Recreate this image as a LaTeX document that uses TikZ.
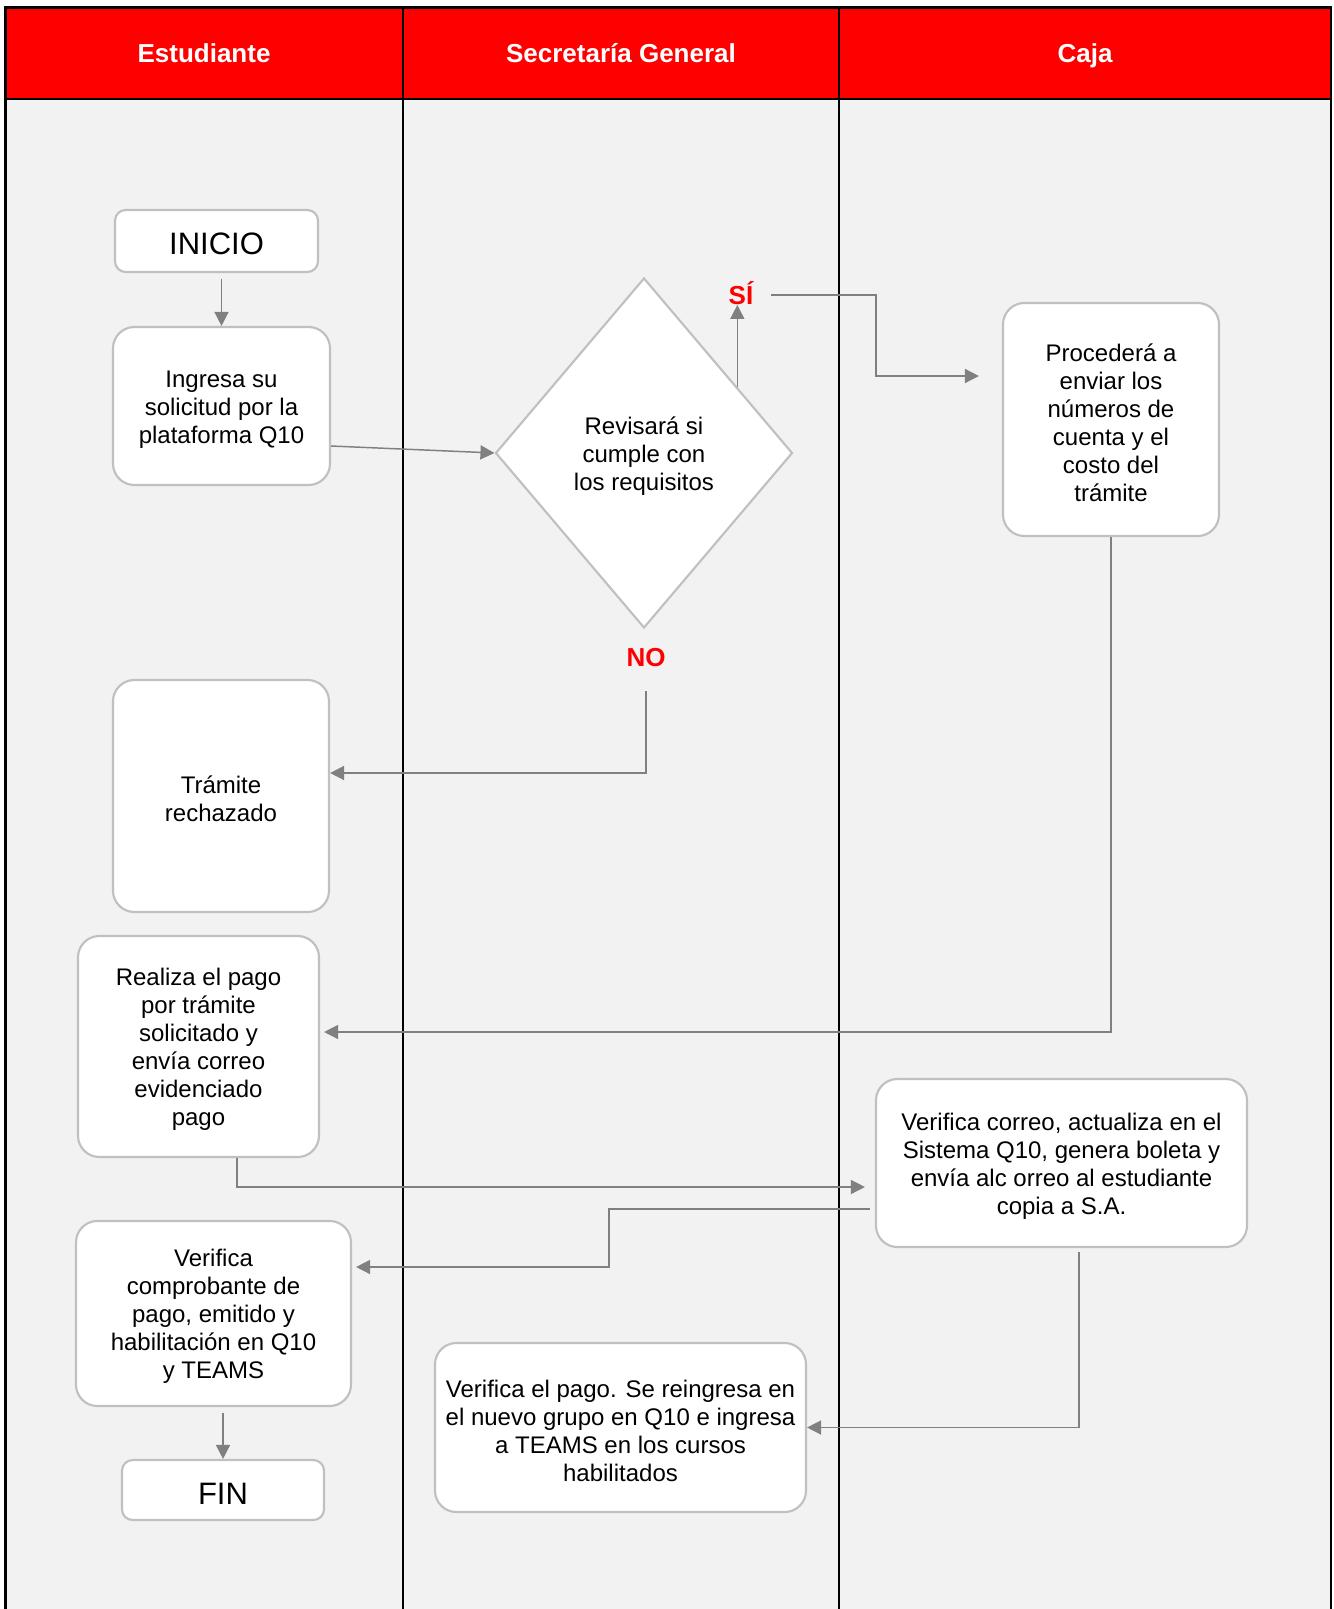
\documentclass[tikz,border=0pt]{standalone}
\usepackage{fontspec}
\setmainfont{Liberation Sans}
\usetikzlibrary{arrows.meta,calc,shapes.geometric}
\definecolor{lanered}{HTML}{FF0000}
\definecolor{lanefill}{HTML}{F2F2F2}
\definecolor{boxline}{HTML}{C0C0C0}
\definecolor{linkgrey}{HTML}{808080}
\newcommand{\pxu}{0.75pt}
% taller first line so that the text block sits a little lower in its box
\newcommand{\firstline}{\rule{0pt}{17.5pt}}

\begin{document}
\begin{tikzpicture}[x=0.75pt,y=-0.75pt,
  box/.style={draw=boxline, line width=1.6pt, fill=white, rounded corners=16pt,
    align=center, inner sep=0pt, font=\fontsize{18}{21}\selectfont},
  endbox/.style={box, rounded corners=8pt, font=\fontsize{23.25}{26}\selectfont,
    execute at begin node={\rule{0pt}{21.2pt}}},
  decision/.style={draw=boxline, line width=1.6pt, fill=white, diamond,
    align=center, inner sep=0pt, font=\fontsize{18}{21}\selectfont},
  lanetitle/.style={text=white, font=\bfseries\fontsize{19.5}{22}\selectfont,
    inner sep=0pt, text height=14.5pt, text depth=0pt},
  answer/.style={text=lanered, font=\bfseries\fontsize{19.5}{22}\selectfont, inner sep=0pt},
  arr/.style={draw=linkgrey, line width=1.1pt,
    -{Triangle[length=10.5pt,width=10.5pt]}},
  lane/.style={line width=1.2pt}
]
\useasboundingbox (0,0) rectangle (1334,1609);

% swimlane background and header band
\fill[lanefill] (5.5,99) rectangle (1331,1609);
\fill[lanered] (5.5,7.5) rectangle (1331,99);
\draw[line width=2pt] (5.5,1609) -- (5.5,7.5) -- (1331,7.5) -- (1331,1609);
\draw[line width=2pt] (5.5,99) -- (1331,99);
\draw[lane] (403,7.5) -- (403,1609);
\draw[lane] (839,7.5) -- (839,1609);

\node[lanetitle] (hEst) at (204,53) {Estudiante};
\node[lanetitle] (hSec) at (621,53) {Secretaría General};
\node[lanetitle] (hCaja) at (1085,53) {Caja};

% process steps
\node[endbox, minimum width=203*\pxu, minimum height=62*\pxu] (inicio) at (216.5,241) {INICIO};
\node[box, minimum width=217*\pxu, minimum height=158*\pxu] (ingresa) at (221.5,406)
  {\firstline Ingresa su\\solicitud por la\\plataforma Q10};
\node[decision, minimum width=297*\pxu, minimum height=350*\pxu] (dec) at (644,453)
  {\firstline Revisará si\\cumple con\\los requisitos};
\node[box, minimum width=216*\pxu, minimum height=233*\pxu] (proc) at (1111,419.5)
  {\firstline Procederá a\\enviar los\\números de\\cuenta y el\\costo del\\trámite};
\node[box, minimum width=216*\pxu, minimum height=232*\pxu] (tram) at (221,796)
  {\firstline Trámite\\rechazado};
\node[box, minimum width=241*\pxu, minimum height=221*\pxu] (real) at (198.5,1046.5)
  {\firstline Realiza el pago\\por trámite\\solicitado y\\envía correo\\evidenciado\\pago};
\node[box, minimum width=371*\pxu, minimum height=168*\pxu] (corr) at (1061.5,1163)
  {\firstline Verifica correo, actualiza en el\\Sistema Q10, genera boleta y\\envía alc orreo al estudiante\\copia a S.A.};
\node[box, minimum width=275*\pxu, minimum height=185*\pxu] (comp) at (213.5,1313.5)
  {\firstline Verifica\\comprobante de\\pago, emitido y\\habilitación en Q10\\y TEAMS};
\node[endbox, minimum width=202*\pxu, minimum height=60*\pxu] (fin) at (223,1490) {FIN};
\node[box, minimum width=371*\pxu, minimum height=169*\pxu] (pago) at (620.5,1427.5)
  {\firstline Verifica el pago. Se reingresa en\\el nuevo grupo en Q10 e ingresa\\a TEAMS en los cursos\\habilitados};

% decision answers
\node[answer] (si) at (741,293) {SÍ};
\node[answer] (no) at (646,658) {NO};

% bend points
\coordinate (siturn) at (876,295);
\coordinate (corrturn) at (609,1209);
\coordinate (decedge) at ($(dec.north)!0.624!(dec.east)$);

% connectors
\draw[arr, shorten <=6*\pxu] (inicio.south -| ingresa.north) -- (ingresa.north);
\draw[arr] ($(ingresa.east)+(0,40)$) -- (dec.west);
\draw[arr] (decedge) -- (decedge |- si.south);
\draw[arr, shorten <=17*\pxu, shorten >=23*\pxu] (si.east |- siturn) -- (siturn)
  |- ($(proc.west)+(0,-43.5)$);
\draw[arr, shorten <=24*\pxu] (no.south) |- ($(tram.east)+(0,-23)$);
\draw[arr, shorten >=4*\pxu] (proc.south) |- ($(real.east)+(0,-14.5)$);
\draw[arr, shorten >=10*\pxu] ($(real.south)+(38.5,0)$) |- ($(corr.west)+(0,24)$);
\draw[arr, shorten <=5*\pxu, shorten >=4*\pxu] ($(corr.west)+(0,46)$) -- (corrturn)
  |- ($(comp.east)+(0,-46.5)$);
\draw[arr, shorten <=4*\pxu] ($(corr.south)+(17.5,0)$) |- (pago.east);
\draw[arr, shorten <=6*\pxu] (comp.south -| fin.north) -- (fin.north);
\end{tikzpicture}
\end{document}
